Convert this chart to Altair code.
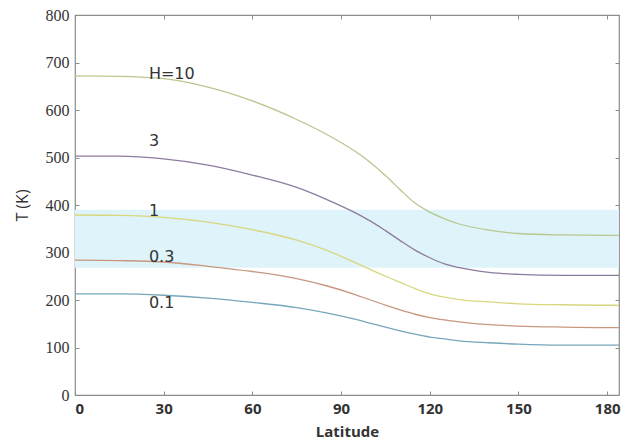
import altair as alt
import pandas as pd

# ---- data ----
lat = [0, 15, 30, 45, 60, 75, 85, 95, 100, 105, 110, 115, 120, 125, 130, 140, 150, 165, 180, 184]
t_h10 = [672, 671, 666, 648, 619, 580, 549, 512, 489, 462, 432, 404, 385, 371, 360, 347, 340, 337, 336, 336]
t_h3 = [503, 503, 497, 484, 463, 437, 412, 383, 366, 346, 325, 305, 289, 276, 268, 258, 254, 252, 252, 252]
t_h1 = [379, 378, 374, 364, 348, 326, 305, 278, 264, 250, 237, 224, 213, 206, 201, 196, 192, 190, 189, 189]
t_h03 = [284, 283, 280, 271, 260, 245, 230, 211, 200, 189, 179, 170, 163, 158, 154, 148, 145, 143, 142, 142]
t_h01 = [213, 213, 210, 204, 195, 184, 173, 159, 151, 143, 135, 128, 122, 118, 114, 110, 107, 105, 105, 105]

series_names = ["H=10", "3", "1", "0.3", "0.1"]
series_values = [t_h10, t_h3, t_h1, t_h03, t_h01]
series_colors = ["#b9c68e", "#8c7c9e", "#d9d77e", "#c8977e", "#76a6ba"]

label_text = ["H=10", "3", "1", "0.3", "0.1"]
label_lat = [25, 25, 25, 25, 25]
label_T = [675, 535, 388, 291, 194]

band_lat = [0, 184]
band_T = [268, 390]

x_ticks = [0, 30, 60, 90, 120, 150, 180]
y_ticks = [0, 100, 200, 300, 400, 500, 600, 700, 800]

# ---- tables ----
rows = []
for name, vals in zip(series_names, series_values):
    for la, t in zip(lat, vals):
        rows.append({"lat": la, "T": t, "series": name})
df = pd.DataFrame(rows)

lab_df = pd.DataFrame({"lat": label_lat, "T": label_T, "text": label_text})
band_df = pd.DataFrame({"x0": [band_lat[0]], "x1": [band_lat[1]], "y0": [band_T[0]], "y1": [band_T[1]]})

x_scale = alt.Scale(domain=[0, 184], nice=False, zero=False)
y_scale = alt.Scale(domain=[0, 800], nice=False)

axis_col = "#8c8c8c"

band = alt.Chart(band_df).mark_rect(color="#def3fa").encode(
    x=alt.X("x0:Q", scale=x_scale, axis=None),
    x2="x1:Q",
    y=alt.Y("y0:Q", scale=y_scale, axis=None),
    y2="y1:Q",
)

lines = alt.Chart(df).mark_line(strokeWidth=1.3, interpolate="monotone").encode(
    x=alt.X("lat:Q", scale=x_scale,
            axis=alt.Axis(orient="bottom", values=x_ticks, title="Latitude",
                          offset=-4, domain=False, tickSize=4, tickColor=axis_col,
                          labelPadding=6, labelFont="Open Sans", labelFontWeight="bold",
                          labelFontSize=15, labelColor="#333333",
                          titleFont="Open Sans", titleFontWeight="bold", titleFontSize=15,
                          titleColor="#333333", titlePadding=8, grid=False)),
    y=alt.Y("T:Q", scale=y_scale,
            axis=alt.Axis(orient="left", values=y_ticks, title="T (K)",
                          offset=-4, domain=False, tickSize=4, tickColor=axis_col,
                          labelPadding=6, labelFont="Liberation Serif",
                          labelFontSize=16, labelColor="#333333",
                          titleFont="Open Sans", titleFontWeight="normal", titleFontSize=16,
                          titleColor="#333333", titlePadding=15, grid=False)),
    color=alt.Color("series:N", scale=alt.Scale(domain=series_names, range=series_colors), legend=None),
)

labels = alt.Chart(lab_df).mark_text(align="left", baseline="middle", font="DejaVu Sans",
                                     fontSize=16, color="#333333").encode(
    x=alt.X("lat:Q", scale=x_scale,
            axis=alt.Axis(orient="top", values=x_ticks, labels=False, title=None,
                          offset=-4, domain=False, tickSize=4, tickColor=axis_col, grid=False)),
    y=alt.Y("T:Q", scale=y_scale,
            axis=alt.Axis(orient="right", values=y_ticks, labels=False, title=None,
                          offset=-4, domain=False, tickSize=4, tickColor=axis_col, grid=False)),
    text="text:N",
)

chart = alt.layer(band, lines, labels).resolve_axis(
    x="independent", y="independent"
).properties(
    width=544, height=380,
    autosize=alt.AutoSizeParams(type="none"),
    padding={"left": 67, "top": 7, "right": 2, "bottom": 50},
    background="white",
).configure_view(stroke=axis_col, strokeWidth=1.2)

chart.save("out.html", embed_options={"renderer": "svg", "actions": False})
